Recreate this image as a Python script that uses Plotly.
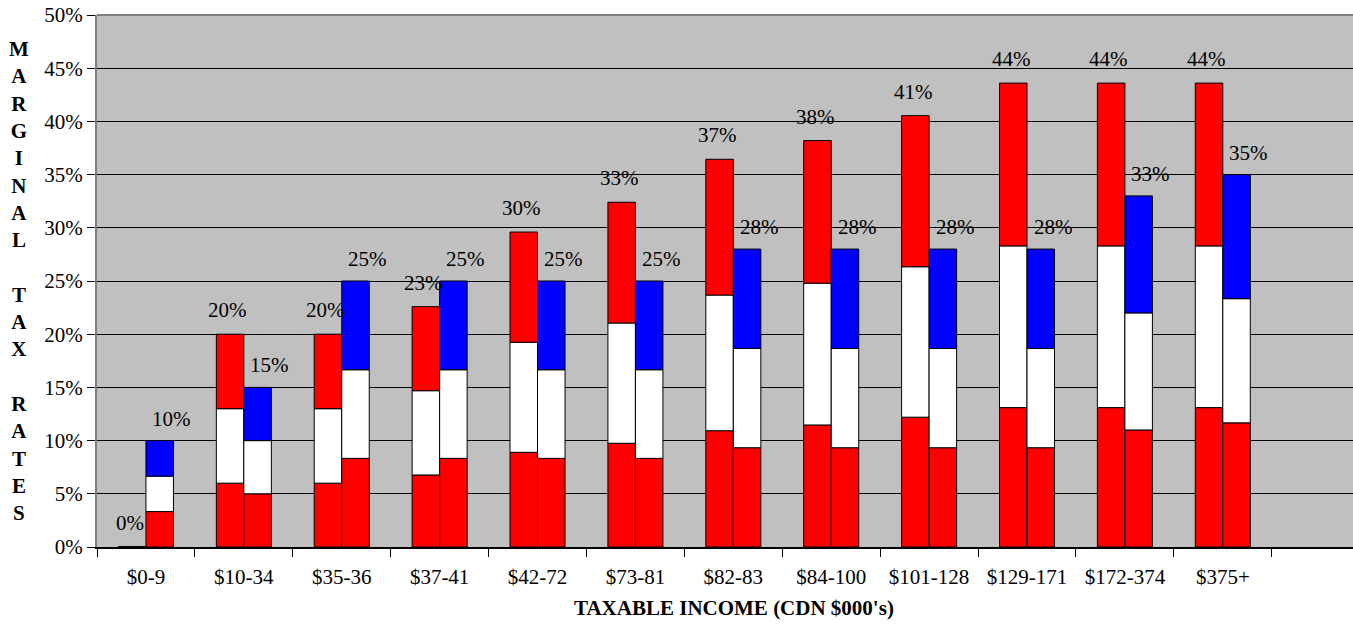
import plotly.graph_objects as go

# income brackets (CDN $000's)
brackets = ["$0-9", "$10-34", "$35-36", "$37-41", "$42-72", "$73-81",
            "$82-83", "$84-100", "$101-128", "$129-171", "$172-374", "$375+"]

# left stack: red / white / red
left_low = [0, 6.0, 6.0, 6.77, 8.9, 9.75, 10.93, 11.47, 12.2, 13.1, 13.1, 13.1]
left_mid = [0, 7.0, 7.0, 7.92, 10.34, 11.3, 12.75, 13.33, 14.14, 15.2, 15.2, 15.2]
left_top = [0, 7.0, 7.0, 7.9, 10.36, 11.35, 12.76, 13.4, 14.2, 15.3, 15.3, 15.3]
left_labels = ["0%", "20%", "20%", "23%", "30%", "33%", "37%", "38%", "41%", "44%", "44%", "44%"]

# right stack: red / white / blue
right_low = [3.33, 5.0, 8.33, 8.33, 8.33, 8.33, 9.33, 9.33, 9.33, 9.33, 11.0, 11.67]
right_mid = [3.33, 5.0, 8.33, 8.33, 8.33, 8.33, 9.33, 9.33, 9.33, 9.33, 11.0, 11.67]
right_top = [3.34, 5.0, 8.34, 8.34, 8.34, 8.34, 9.34, 9.34, 9.34, 9.34, 11.0, 11.66]
right_labels = ["10%", "15%", "25%", "25%", "25%", "25%", "28%", "28%", "28%", "28%", "33%", "35%"]

RED, WHITE, BLUE = "#FF0000", "#FFFFFF", "#0000FF"
FONT = "Liberation Serif"
FS = 21


def stack(fig, group, segments, colors):
    base = [0] * len(brackets)
    for seg, col in zip(segments, colors):
        fig.add_trace(go.Bar(
            x=brackets, y=seg, base=list(base), offsetgroup=group,
            marker=dict(color=col, line=dict(color="#000000", width=1)),
            showlegend=False, hoverinfo="skip"))
        base = [b + s for b, s in zip(base, seg)]
    return base


fig = go.Figure()
left_tot = stack(fig, "ca", [left_low, left_mid, left_top], [RED, WHITE, RED])
right_tot = stack(fig, "us", [right_low, right_mid, right_top], [RED, WHITE, BLUE])

for b, t, lab in zip(brackets, left_tot, left_labels):
    fig.add_annotation(x=b, y=t, text=lab, showarrow=False, xshift=-16, yshift=24,
                       font=dict(family=FONT, size=FS, color="#000000"))
for b, t, lab in zip(brackets, right_tot, right_labels):
    fig.add_annotation(x=b, y=t, text=lab, showarrow=False, xshift=26, yshift=22,
                       font=dict(family=FONT, size=FS, color="#000000"))

ytitle = "<br>".join(list("MARGINAL")) + "<br><br>" + "<br>".join(list("TAX")) \
         + "<br><br>" + "<br>".join(list("RATES"))
fig.add_annotation(xref="paper", yref="paper", x=0, xshift=-78, y=0.5,
                   xanchor="center", yanchor="middle", text="<b>" + ytitle + "</b>",
                   showarrow=False, font=dict(family=FONT, size=FS, color="#000000"))
fig.add_annotation(xref="paper", yref="paper", x=0.507, y=-0.1147,
                   xanchor="center", yanchor="middle", showarrow=False,
                   text="<b>TAXABLE INCOME (CDN $000's)</b>",
                   font=dict(family=FONT, size=FS, color="#000000"))

# gray frame line on top of plot area
fig.add_shape(type="line", xref="paper", yref="paper", x0=0, x1=1, y0=1, y1=1,
              line=dict(color="#808080", width=2))

fig.update_layout(
    width=1353, height=626,
    margin=dict(l=97, r=0, t=15, b=79),
    barmode="group", bargap=0.438, bargroupgap=0,
    plot_bgcolor="#C0C0C0", paper_bgcolor="#FFFFFF",
    font=dict(family=FONT, size=FS, color="#000000"),
    xaxis=dict(type="category", range=[-0.5, 12.33], tickson="boundaries",
               ticks="outside", ticklen=8, tickcolor="#000000", showgrid=False,
               showline=True, linecolor="#000000", linewidth=2, ticklabelstandoff=10,
               automargin=False,
               tickfont=dict(family=FONT, size=FS, color="#000000")),
    yaxis=dict(range=[0, 50], dtick=5, ticksuffix="%", ticks="outside", ticklen=8,
               tickcolor="#000000", showgrid=True, gridcolor="#000000", gridwidth=1,
               showline=True, linecolor="#808080", linewidth=2, zeroline=False,
               automargin=False,
               tickfont=dict(family=FONT, size=FS, color="#000000")),
)

# drop the browser's default 8px body margin so the figure fills the window
fig.write_html("out.html", config={"displayModeBar": False},
               post_script="document.body.style.margin='0';document.body.style.overflow='hidden';")
